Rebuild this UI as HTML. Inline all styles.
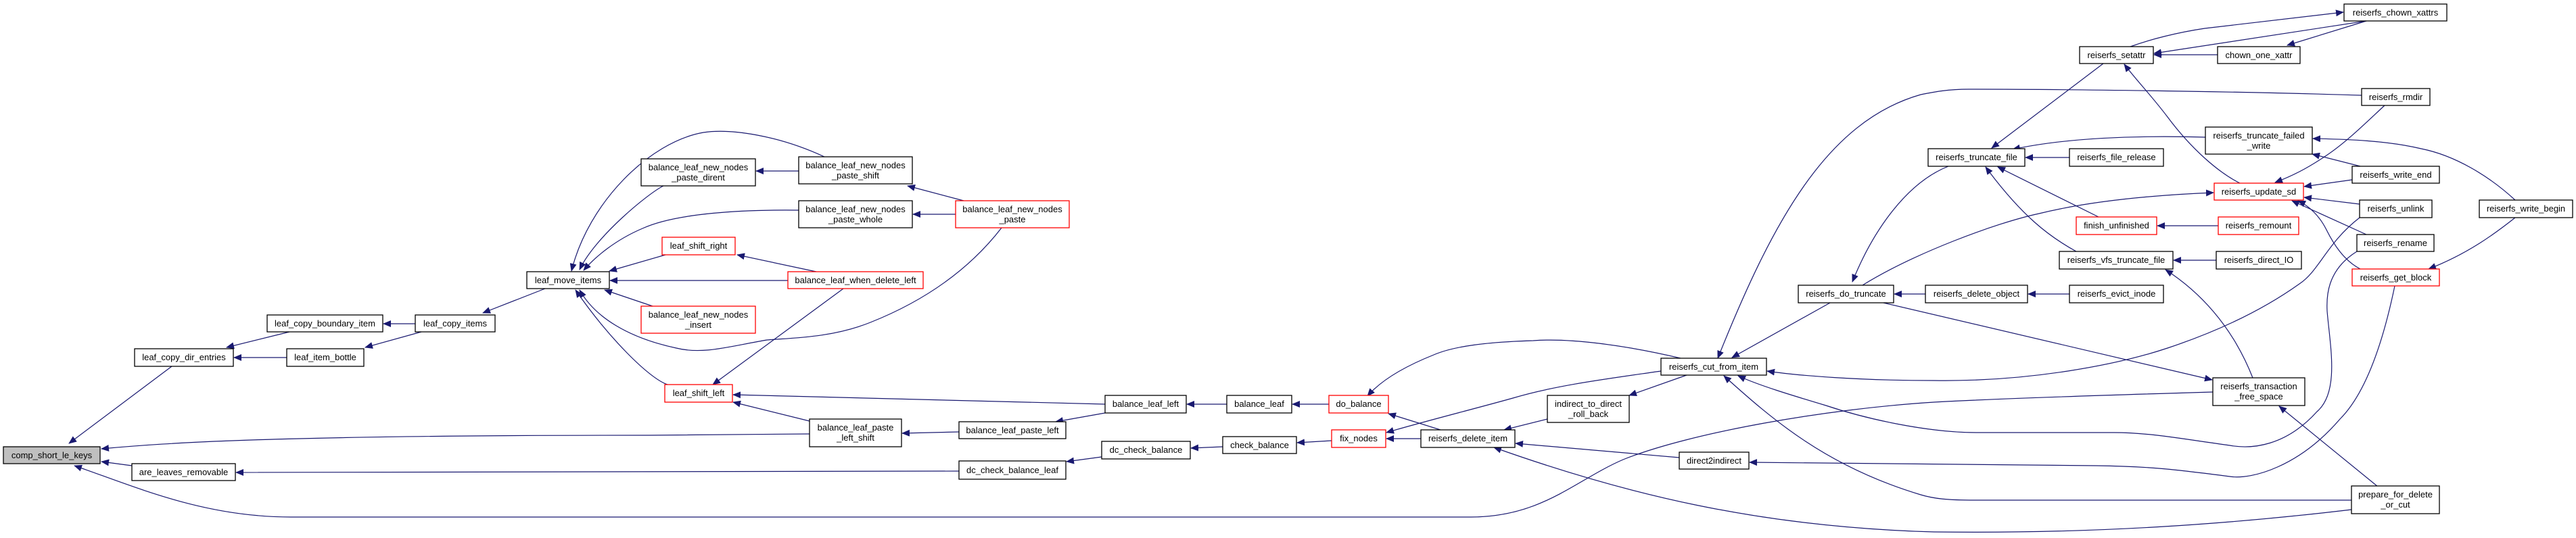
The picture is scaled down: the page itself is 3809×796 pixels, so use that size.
<!DOCTYPE html>
<html><head><meta charset="utf-8"><style>
html,body{margin:0;padding:0;background:#fff;}
svg{display:block;}
text{font-family:"Liberation Sans",Arial,sans-serif;font-size:13px;fill:#000;}
</style></head><body>
<svg width="3809" height="796" viewBox="0 0 3809 796" xmlns="http://www.w3.org/2000/svg">
<defs>
<marker id="a" markerWidth="12" markerHeight="10" refX="11" refY="5" orient="auto" markerUnits="userSpaceOnUse">
<path d="M0,0 L12,5 L0,10 Z" fill="#191970"/>
</marker>
</defs>
<g fill="none" stroke="#191970" stroke-width="1.2" marker-end="url(#a)">
<path d="M254,542 L102,656"/>
<path d="M428,491 L335,514"/>
<path d="M424,529 L346,529"/>
<path d="M614,479 L567,479"/>
<path d="M623,491 L540,514"/>
<path d="M806,427 L714,463"/>
<path d="M195,689 L150,683"/>
<path d="M1197,642 L960,644 C400,644 250,655 150,664"/>
<path d="M1418,697 L349,699"/>
<path d="M3272,580 C3100,585 2950,590 2860,595 C2700,605 2500,640 2400,680 C2330,710 2280,765 2175,765 L430,765 C300,765 200,720 110,689"/>
<path d="M981,275 C960,285 880,350 857,399"/>
<path d="M1219,232 C1150,200 1080,190 1040,196 C960,210 870,300 845,401"/>
<path d="M1181,253 L1118,253"/>
<path d="M1425,297 L1342,275"/>
<path d="M1413,317 L1350,317"/>
<path d="M1181,311 C1100,310 1000,315 950,338 C910,355 880,380 863,400"/>
<path d="M984,377 L901,401"/>
<path d="M1165,415 L902,415"/>
<path d="M965,453 L894,429"/>
<path d="M1481,337 C1440,390 1380,440 1287,477 C1230,500 1170,500 1134,503 C1080,512 1040,525 1000,515 C930,500 880,470 857,429"/>
<path d="M987,569 C960,560 900,500 851,429"/>
<path d="M1207,402 L1090,377"/>
<path d="M1247,427 L1054,569"/>
<path d="M1634,598 L1084,584"/>
<path d="M1197,623 L1084,595"/>
<path d="M1418,639 L1334,641"/>
<path d="M1634,611 L1561,624"/>
<path d="M1814,598 L1755,598"/>
<path d="M1965,598 L1911,598"/>
<path d="M1808,661 L1761,663"/>
<path d="M1629,676 L1577,683"/>
<path d="M1969,652 L1918,655"/>
<path d="M2101,649 L2050,649"/>
<path d="M2130,636 L2053,612"/>
<path d="M2485,530 C2400,510 2320,500 2267,504 C2200,506 2150,512 2120,525 C2070,545 2040,565 2022,586"/>
<path d="M2456,549 C2380,560 2300,570 2237,589 C2180,605 2100,625 2050,640"/>
<path d="M2288,620 L2224,636"/>
<path d="M2494,555 L2409,585"/>
<path d="M2483,677 L2241,656"/>
<path d="M3477,754 C3300,775 3100,790 2860,787 C2600,780 2400,730 2209,662"/>
<path d="M3477,740 L2920,740 C2880,740 2860,738 2840,732 C2700,690 2620,620 2549,556"/>
<path d="M2706,448 L2561,529"/>
<path d="M3492,141 C3300,135 3050,132 2911,132 C2880,132 2860,136 2840,140 C2700,180 2620,330 2540,530"/>
<path d="M2881,246 C2820,270 2770,340 2739,417"/>
<path d="M2754,422 C2830,375 2950,330 3015,316 C3100,295 3200,288 3273,285"/>
<path d="M2847,435 L2801,435"/>
<path d="M2785,448 L3271,562"/>
<path d="M3060,435 L2999,435"/>
<path d="M3489,322 C3440,360 3430,400 3400,420 C3330,470 3250,500 3205,515 C3130,540 3000,565 2860,563 C2750,563 2660,556 2613,549"/>
<path d="M3485,372 C3440,400 3440,440 3441,460 C3445,510 3460,580 3426,609 C3380,660 3330,665 3297,659 C3230,650 3180,640 3126,640 L2923,640 C2850,640 2760,620 2700,600 C2650,585 2600,570 2570,556"/>
<path d="M3541,423 C3525,500 3500,580 3460,620 C3400,690 3330,710 3297,705 C3220,695 3180,690 3100,689 L2587,684"/>
<path d="M3516,720 L3370,601"/>
<path d="M3331,559 C3300,480 3250,430 3202,399"/>
<path d="M3277,385 L3214,385"/>
<path d="M3070,372 C3030,350 2990,320 2936,247"/>
<path d="M3103,321 L2954,247"/>
<path d="M3280,334 L3190,334"/>
<path d="M3060,233 L2995,233"/>
<path d="M3261,203 C3150,200 3050,205 2976,221"/>
<path d="M3110,94 L2945,219"/>
<path d="M3312,271 C3280,255 3240,220 3205,173 C3180,140 3160,120 3141,95"/>
<path d="M3279,81 L3185,81"/>
<path d="M3499,31 L3185,79"/>
<path d="M3499,31 L3382,67"/>
<path d="M3150,69 C3180,58 3220,48 3260,42 L3465,18"/>
<path d="M3526,156 C3500,180 3470,210 3440,230 C3410,250 3390,260 3364,270"/>
<path d="M3490,246 L3419,228"/>
<path d="M3719,296 C3680,260 3630,230 3580,220 C3530,208 3470,206 3420,205"/>
<path d="M3719,322 C3690,345 3650,375 3591,398"/>
<path d="M3478,266 L3407,276"/>
<path d="M3489,302 L3407,292"/>
<path d="M3499,347 L3389,297"/>
<path d="M3490,398 C3465,385 3450,360 3440,340 C3430,320 3415,305 3398,297"/>
</g>
<g stroke-width="1.3">
<rect x="5" y="661" width="143" height="25" fill="#bfbfbf" stroke="#000"/>
<rect x="199" y="516" width="146" height="26" fill="#fff" stroke="#000"/>
<rect x="395" y="466" width="171" height="25" fill="#fff" stroke="#000"/>
<rect x="424" y="516" width="114" height="26" fill="#fff" stroke="#000"/>
<rect x="614" y="466" width="118" height="25" fill="#fff" stroke="#000"/>
<rect x="779" y="402" width="122" height="25" fill="#fff" stroke="#000"/>
<rect x="195" y="686" width="153" height="25" fill="#fff" stroke="#000"/>
<rect x="948" y="235" width="169" height="40" fill="#fff" stroke="#000"/>
<rect x="1181" y="232" width="168" height="40" fill="#fff" stroke="#000"/>
<rect x="1181" y="297" width="168" height="40" fill="#fff" stroke="#000"/>
<rect x="1413" y="297" width="168" height="40" fill="#fff" stroke="#f00"/>
<rect x="979" y="351" width="108" height="26" fill="#fff" stroke="#f00"/>
<rect x="1165" y="402" width="200" height="25" fill="#fff" stroke="#f00"/>
<rect x="948" y="453" width="169" height="40" fill="#fff" stroke="#f00"/>
<rect x="983" y="569" width="100" height="26" fill="#fff" stroke="#f00"/>
<rect x="1197" y="620" width="136" height="41" fill="#fff" stroke="#000"/>
<rect x="1418" y="624" width="158" height="25" fill="#fff" stroke="#000"/>
<rect x="1634" y="585" width="120" height="26" fill="#fff" stroke="#000"/>
<rect x="1814" y="585" width="96" height="26" fill="#fff" stroke="#000"/>
<rect x="1629" y="653" width="131" height="26" fill="#fff" stroke="#000"/>
<rect x="1808" y="646" width="109" height="25" fill="#fff" stroke="#000"/>
<rect x="1418" y="682" width="158" height="27" fill="#fff" stroke="#000"/>
<rect x="1965" y="585" width="88" height="26" fill="#fff" stroke="#f00"/>
<rect x="1969" y="636" width="80" height="26" fill="#fff" stroke="#f00"/>
<rect x="2101" y="636" width="139" height="26" fill="#fff" stroke="#000"/>
<rect x="2288" y="585" width="121" height="40" fill="#fff" stroke="#000"/>
<rect x="2456" y="530" width="156" height="25" fill="#fff" stroke="#000"/>
<rect x="2483" y="669" width="103" height="25" fill="#fff" stroke="#000"/>
<rect x="2659" y="422" width="141" height="26" fill="#fff" stroke="#000"/>
<rect x="2847" y="422" width="151" height="26" fill="#fff" stroke="#000"/>
<rect x="3466" y="6" width="152" height="25" fill="#fff" stroke="#000"/>
<rect x="3075" y="69" width="109" height="25" fill="#fff" stroke="#000"/>
<rect x="3279" y="69" width="122" height="25" fill="#fff" stroke="#000"/>
<rect x="3492" y="131" width="101" height="25" fill="#fff" stroke="#000"/>
<rect x="3261" y="188" width="158" height="40" fill="#fff" stroke="#000"/>
<rect x="2851" y="220" width="143" height="26" fill="#fff" stroke="#000"/>
<rect x="3060" y="220" width="139" height="26" fill="#fff" stroke="#000"/>
<rect x="3478" y="246" width="129" height="25" fill="#fff" stroke="#000"/>
<rect x="3274" y="271" width="132" height="25" fill="#fff" stroke="#f00"/>
<rect x="3489" y="296" width="107" height="26" fill="#fff" stroke="#000"/>
<rect x="3666" y="296" width="138" height="26" fill="#fff" stroke="#000"/>
<rect x="3070" y="321" width="119" height="26" fill="#fff" stroke="#f00"/>
<rect x="3280" y="321" width="119" height="26" fill="#fff" stroke="#f00"/>
<rect x="3485" y="347" width="114" height="25" fill="#fff" stroke="#000"/>
<rect x="3045" y="372" width="168" height="26" fill="#fff" stroke="#000"/>
<rect x="3277" y="372" width="126" height="26" fill="#fff" stroke="#000"/>
<rect x="3478" y="398" width="129" height="25" fill="#fff" stroke="#f00"/>
<rect x="3060" y="422" width="139" height="26" fill="#fff" stroke="#000"/>
<rect x="3272" y="559" width="136" height="41" fill="#fff" stroke="#000"/>
<rect x="3477" y="719" width="130" height="41" fill="#fff" stroke="#000"/>
</g>
<g text-anchor="middle">
<text x="76.5" y="678">comp_short_le_keys</text>
<text x="272" y="533">leaf_copy_dir_entries</text>
<text x="480.5" y="483">leaf_copy_boundary_item</text>
<text x="481" y="533">leaf_item_bottle</text>
<text x="673" y="483">leaf_copy_items</text>
<text x="840" y="419">leaf_move_items</text>
<text x="271.5" y="703">are_leaves_removable</text>
<text x="1032.5" y="252">balance_leaf_new_nodes</text><text x="1032.5" y="267">_paste_dirent</text>
<text x="1265" y="249">balance_leaf_new_nodes</text><text x="1265" y="264">_paste_shift</text>
<text x="1265" y="314">balance_leaf_new_nodes</text><text x="1265" y="329">_paste_whole</text>
<text x="1497" y="314">balance_leaf_new_nodes</text><text x="1497" y="329">_paste</text>
<text x="1033" y="368">leaf_shift_right</text>
<text x="1265" y="419">balance_leaf_when_delete_left</text>
<text x="1032.5" y="470">balance_leaf_new_nodes</text><text x="1032.5" y="485">_insert</text>
<text x="1033" y="586">leaf_shift_left</text>
<text x="1265" y="637">balance_leaf_paste</text><text x="1265" y="652">_left_shift</text>
<text x="1497" y="641">balance_leaf_paste_left</text>
<text x="1694" y="602">balance_leaf_left</text>
<text x="1862" y="602">balance_leaf</text>
<text x="1694.5" y="670">dc_check_balance</text>
<text x="1862.5" y="663">check_balance</text>
<text x="1497" y="700">dc_check_balance_leaf</text>
<text x="2009" y="602">do_balance</text>
<text x="2009" y="653">fix_nodes</text>
<text x="2170.5" y="653">reiserfs_delete_item</text>
<text x="2348.5" y="602">indirect_to_direct</text><text x="2348.5" y="617">_roll_back</text>
<text x="2534" y="547">reiserfs_cut_from_item</text>
<text x="2534.5" y="686">direct2indirect</text>
<text x="2729.5" y="439">reiserfs_do_truncate</text>
<text x="2922.5" y="439">reiserfs_delete_object</text>
<text x="3542" y="23">reiserfs_chown_xattrs</text>
<text x="3129.5" y="86">reiserfs_setattr</text>
<text x="3340" y="86">chown_one_xattr</text>
<text x="3542.5" y="148">reiserfs_rmdir</text>
<text x="3340" y="205">reiserfs_truncate_failed</text><text x="3340" y="220">_write</text>
<text x="2922.5" y="237">reiserfs_truncate_file</text>
<text x="3129.5" y="237">reiserfs_file_release</text>
<text x="3542.5" y="263">reiserfs_write_end</text>
<text x="3340" y="288">reiserfs_update_sd</text>
<text x="3542.5" y="313">reiserfs_unlink</text>
<text x="3735" y="313">reiserfs_write_begin</text>
<text x="3129.5" y="338">finish_unfinished</text>
<text x="3339.5" y="338">reiserfs_remount</text>
<text x="3542" y="364">reiserfs_rename</text>
<text x="3129" y="389">reiserfs_vfs_truncate_file</text>
<text x="3340" y="389">reiserfs_direct_IO</text>
<text x="3542.5" y="415">reiserfs_get_block</text>
<text x="3129.5" y="439">reiserfs_evict_inode</text>
<text x="3340" y="576">reiserfs_transaction</text><text x="3340" y="591">_free_space</text>
<text x="3542" y="736">prepare_for_delete</text><text x="3542" y="751">_or_cut</text>
</g>
</svg>
</body></html>
